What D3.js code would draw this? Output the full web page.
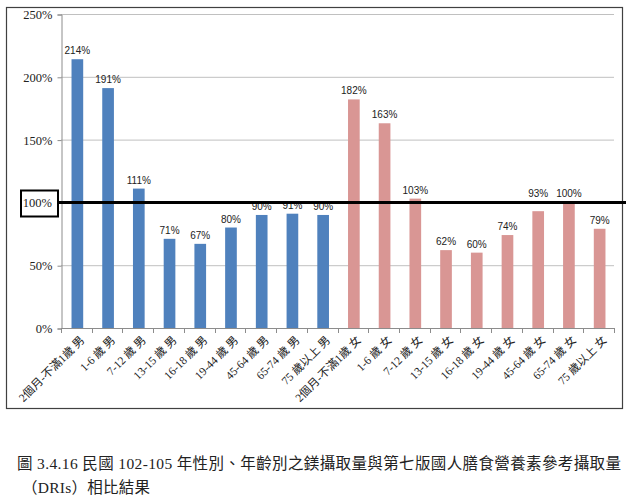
<!DOCTYPE html>
<html>
<head>
<meta charset="utf-8">
<script src="https://cdn.jsdelivr.net/npm/d3@7"></script>
<style>
  body { margin: 0; background: #fff; }
  svg { display: block; }
</style>
</head>
<body>
<svg id="chart"></svg>
<script>
const categories = [
  "2個月-不滿1歲 男", "1-6 歲 男", "7-12 歲 男", "13-15 歲 男", "16-18 歲 男",
  "19-44 歲 男", "45-64 歲 男", "65-74 歲 男", "75 歲以上 男",
  "2個月-不滿1歲 女", "1-6 歲 女", "7-12 歲 女", "13-15 歲 女", "16-18 歲 女",
  "19-44 歲 女", "45-64 歲 女", "65-74 歲 女", "75 歲以上 女"
];
const maleValues = [214, 191, 111, 71, 67, 80, 90, 91, 90];
const femaleValues = [182, 163, 103, 62, 60, 74, 93, 100, 79];
const yTicks = [0, 50, 100, 150, 200, 250];
const referenceLine = 100;
const captionLines = [
  "圖 3.4.16 民國 102-105 年性別、年齡別之鎂攝取量與第七版國人膳食營養素參考攝取量",
  "（DRIs）相比結果"
];

const width = 632, height = 498;
const margin = { top: 14, right: 17, bottom: 170, left: 61 };
const serif = "'Liberation Serif', 'Noto Sans CJK TC', serif";

const data = categories.map((c, i) => ({
  label: c,
  value: i < maleValues.length ? maleValues[i] : femaleValues[i - maleValues.length],
  male: i < maleValues.length
}));

const svg = d3.select("#chart")
  .attr("width", width)
  .attr("height", height);

// chart frame
svg.append("rect")
  .attr("x", 6.5).attr("y", 7.5)
  .attr("width", 616).attr("height", 401)
  .attr("fill", "none")
  .attr("stroke", "#404040")
  .attr("stroke-width", 1.2);

const x = d3.scaleBand()
  .domain(categories)
  .range([margin.left + 1, width - margin.right])
  .paddingInner(0.62)
  .paddingOuter(0.31);

const y = d3.scaleLinear()
  .domain([0, 250])
  .range([328, margin.top]);

const plotRight = width - margin.right - 1;

// gridlines
svg.append("g")
  .selectAll("line")
  .data(yTicks.filter(d => d > 0))
  .join("line")
  .attr("x1", margin.left).attr("x2", plotRight)
  .attr("y1", d => y(d) + 0.5).attr("y2", d => y(d) + 0.5)
  .attr("stroke", "#c0c0c0");

// y axis
const yAxisGroup = svg.append("g")
  .attr("transform", `translate(${margin.left + 0.5},0.5)`)
  .call(d3.axisLeft(y).tickValues(yTicks).tickSize(4).tickFormat(d => d + "%"));
yAxisGroup.select(".domain").attr("stroke", "#8c8c8c");
yAxisGroup.selectAll(".tick line").attr("stroke", "#8c8c8c");
yAxisGroup.selectAll("text")
  .attr("x", -9)
  .style("font-family", serif)
  .style("font-size", "12.5px")
  .attr("fill", "#222");

// x axis (ticks between categories)
const step = x.step();
const boundaries = d3.range(categories.length + 1).map(i => margin.left + i * step);
svg.append("line")
  .attr("x1", margin.left).attr("x2", plotRight)
  .attr("y1", y(0) + 0.5).attr("y2", y(0) + 0.5)
  .attr("stroke", "#8c8c8c");
svg.append("g")
  .selectAll("line")
  .data(boundaries)
  .join("line")
  .attr("x1", d => Math.round(d) + 0.5).attr("x2", d => Math.round(d) + 0.5)
  .attr("y1", y(0)).attr("y2", y(0) + 5)
  .attr("stroke", "#8c8c8c");

// bars
svg.append("g")
  .selectAll("rect")
  .data(data)
  .join("rect")
  .attr("x", d => x(d.label))
  .attr("y", d => y(d.value))
  .attr("width", x.bandwidth())
  .attr("height", d => y(0) - y(d.value))
  .attr("fill", d => d.male ? "#4f81bd" : "#d99694");

// value labels (female labels that would sit on the 100% line are lifted above it)
const labelY = d => {
  const natural = y(d.value) - 5;
  const lineY = y(referenceLine);
  if (!d.male && natural > lineY - 12 && natural < lineY + 12) return Math.min(natural, lineY - 5.5);
  return natural;
};
svg.append("g")
  .selectAll("text")
  .data(data)
  .join("text")
  .attr("x", d => x(d.label) + x.bandwidth() / 2)
  .attr("y", labelY)
  .attr("text-anchor", "middle")
  .style("font-family", "'Liberation Sans', Arial, sans-serif")
  .style("font-size", "10px")
  .attr("fill", "#222")
  .text(d => d.value + "%");

// category labels, rotated
svg.append("g")
  .selectAll("text")
  .data(categories)
  .join("text")
  .attr("transform", d => `translate(${x(d) + x.bandwidth() / 2 + 5},${y(0) + 10}) rotate(-45)`)
  .attr("text-anchor", "end")
  .attr("dy", "0.35em")
  .style("font-family", serif)
  .style("font-size", "11.5px")
  .attr("fill", "#222")
  .text(d => d);

// 100% reference line and boxed label
svg.append("line")
  .attr("x1", 58).attr("x2", 626)
  .attr("y1", y(referenceLine)).attr("y2", y(referenceLine))
  .attr("stroke", "#000")
  .attr("stroke-width", 3);
svg.append("rect")
  .attr("x", 21).attr("y", 190.5)
  .attr("width", 37).attr("height", 26)
  .attr("fill", "#fff")
  .attr("stroke", "#000")
  .attr("stroke-width", 2);
svg.append("text")
  .attr("x", 52).attr("y", y(referenceLine))
  .attr("dy", "0.35em")
  .attr("text-anchor", "end")
  .style("font-family", serif)
  .style("font-size", "12.5px")
  .attr("fill", "#222")
  .text(referenceLine + "%");

// caption
svg.append("g")
  .selectAll("text")
  .data(captionLines)
  .join("text")
  .attr("x", (d, i) => i === 0 ? 17 : 22)
  .attr("y", (d, i) => i === 0 ? 469 : 493)
  .attr("textLength", (d, i) => i === 0 ? 604 : 128)
  .attr("lengthAdjust", "spacing")
  .style("font-family", serif)
  .style("font-size", "15.5px")
  .attr("fill", "#222")
  .text(d => d);
</script>
</body>
</html>
